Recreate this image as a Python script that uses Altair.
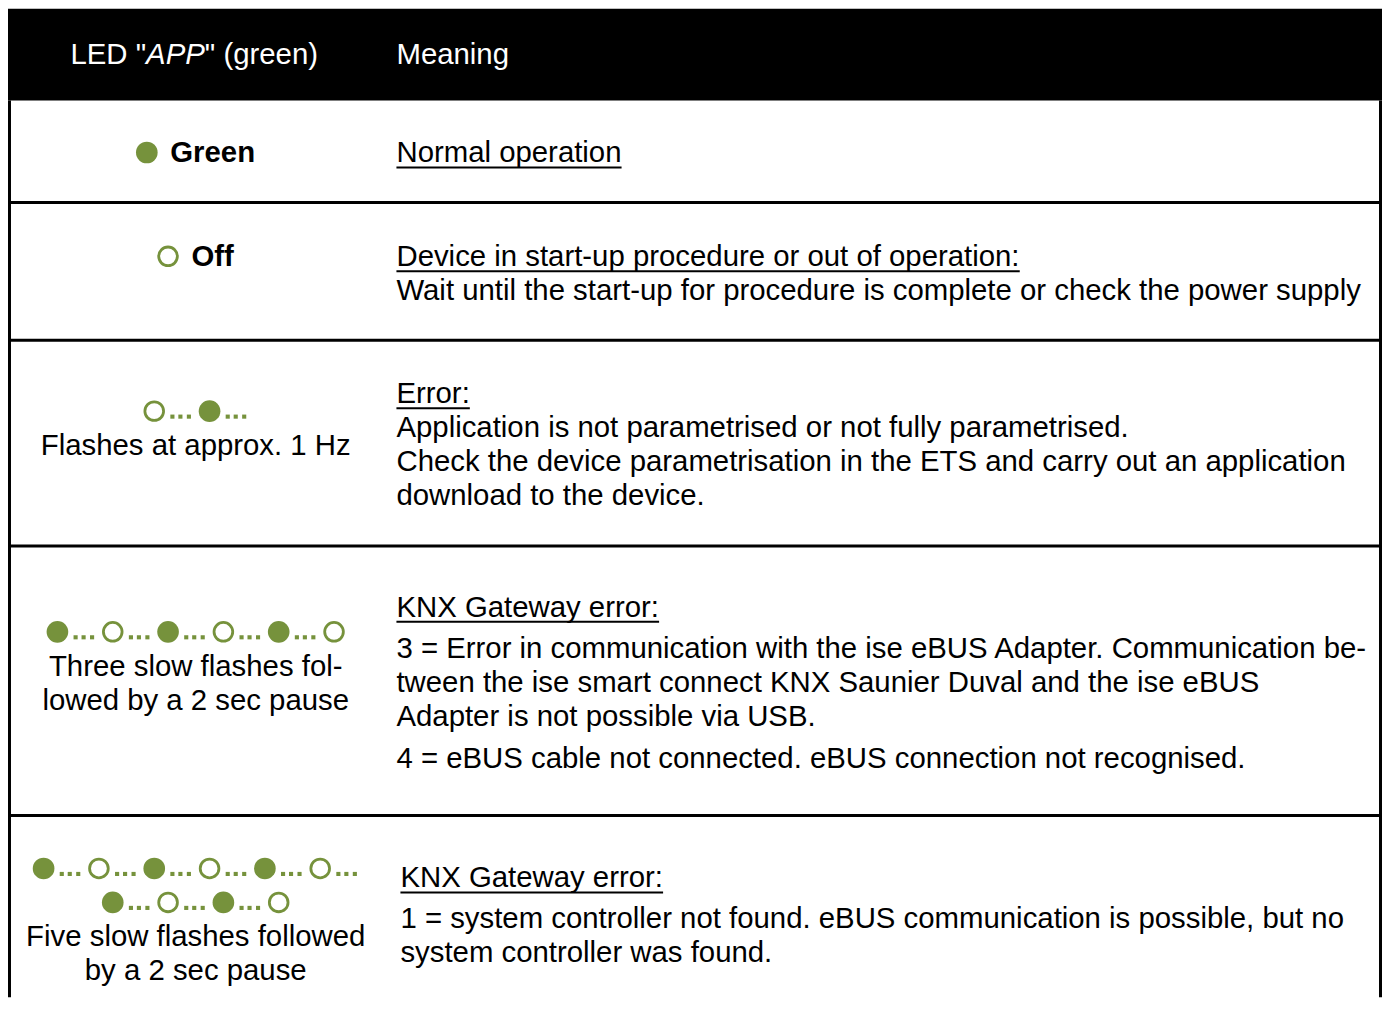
import altair as alt
import pandas as pd

# ---------------- data (table content) ----------------
HEADER_LED = ['LED "', "APP", '" (green)']          # middle part is italic
HEADER_MEANING = "Meaning"

STATE_SYMBOL = ["●", "○", None, None, None]
STATE_WORD = ["Green", "Off", None, None, None]

FLASH_PATTERNS = [
    [],
    [],
    ["○…●…"],
    ["●…○…●…○…●…○"],
    ["●…○…●…○…●…○…", "●…○…●…○"],
]
FLASH_TEXT = [
    [],
    [],
    ["Flashes at approx. 1 Hz"],
    ["Three slow flashes fol-", "lowed by a 2 sec pause"],
    ["Five slow flashes followed", "by a 2 sec pause"],
]

MEANING_HEADING = [
    "Normal operation",
    "Device in start-up procedure or out of operation:",
    "Error:",
    "KNX Gateway error:",
    "KNX Gateway error:",
]
MEANING_BODY = [
    [],
    [["Wait until the start-up for procedure is complete or check the power supply"]],
    [[
        "Application is not parametrised or not fully parametrised.",
        "Check the device parametrisation in the ETS and carry out an application",
        "download to the device.",
    ]],
    [
        [
            "3 = Error in communication with the ise eBUS Adapter. Communication be-",
            "tween the ise smart connect KNX Saunier Duval and the ise eBUS",
            "Adapter is not possible via USB.",
        ],
        ["4 = eBUS cable not connected. eBUS connection not recognised."],
    ],
    [[
        "1 = system controller not found. eBUS communication is possible, but no",
        "system controller was found.",
    ]],
]

# ---------------- layout / style ----------------
W, H = 1376, 990
LEFT, TOP = 8, 8                      # page offset of the plot area
FONT = "Liberation Sans, Arial, Helvetica, sans-serif"
FS = 29.4
LINE = 34
GREEN = "#76923C"
HEADER_BOTTOM = 100
HEADER_CY = 54
HEADER_C1_CX = 194.5
ROW_LINES = [202, 340, 546, 816]
BORDER_X = [9.5, 1382.5]
COL1_CX = 196
COL2_X = [397, 397, 397, 397, 401]
COL1_TOP = [153, 257, 411, 632, 869]
COL2_TOP = [153, 257, 394, 608, 879]
COL1_TEXT_DY = 1
HEAD_GAP = [34, 34, 34, 41, 41]
PARA_GAP = 42
STEP = 55.4
DOT_OFF = [-9.5, -1.5, 7]
DOT_DY = 5.5
SYM_GAP = 13
SYM_D = 21

# Arial / Liberation Sans advance widths (1/1000 em)
AW = {' ': 278, '!': 278, '"': 355, "'": 191, '(': 333, ')': 333, ',': 278, '-': 333,
      '.': 278, ':': 278, '=': 584, '?': 556,
      'A': 667, 'B': 667, 'C': 722, 'D': 722, 'E': 667, 'F': 611, 'G': 778, 'H': 722,
      'I': 278, 'J': 500, 'K': 667, 'L': 556, 'M': 833, 'N': 722, 'O': 778, 'P': 667,
      'Q': 778, 'R': 722, 'S': 667, 'T': 611, 'U': 722, 'V': 667, 'W': 944, 'X': 667,
      'Y': 667, 'Z': 611,
      'a': 556, 'b': 556, 'c': 500, 'd': 556, 'e': 556, 'f': 278, 'g': 556, 'h': 556,
      'i': 222, 'j': 222, 'k': 500, 'l': 222, 'm': 833, 'n': 556, 'o': 556, 'p': 556,
      'q': 556, 'r': 333, 's': 500, 't': 278, 'u': 556, 'v': 500, 'w': 722, 'x': 500,
      'y': 500, 'z': 500}
for d in "0123456789":
    AW[d] = 556
AWB = dict(AW)
AWB.update({'G': 778, 'r': 389, 'e': 556, 'n': 611, 'O': 778, 'f': 333})


def tw(s, table=AW, fs=FS):
    return sum(table.get(c, 556) for c in s) * fs / 1000.0


# ---------------- build mark tables ----------------
text_left, text_center, text_bold, head_text, head_italic = [], [], [], [], []
underlines, filled, hollow, dots = [], [], [], []

# header
w1, w2, w3 = (tw(HEADER_LED[0]), tw(HEADER_LED[1]), tw(HEADER_LED[2]))
hx = HEADER_C1_CX - (w1 + w2 + w3) / 2
head_text.append(dict(x=hx, y=HEADER_CY, t=HEADER_LED[0]))
head_italic.append(dict(x=hx + w1, y=HEADER_CY, t=HEADER_LED[1]))
head_text.append(dict(x=hx + w1 + w2, y=HEADER_CY, t=HEADER_LED[2]))
head_text.append(dict(x=COL2_X[0], y=HEADER_CY, t=HEADER_MEANING))

for r in range(5):
    # column 1
    cy = COL1_TOP[r]
    if STATE_SYMBOL[r]:
        word = STATE_WORD[r]
        total = SYM_D + SYM_GAP + tw(word, AWB)
        left = COL1_CX - total / 2
        rec = dict(x=left + SYM_D / 2, y=cy - 1)
        (filled if STATE_SYMBOL[r] == "●" else hollow).append(rec)
        text_bold.append(dict(x=left + SYM_D + SYM_GAP, y=cy, t=word))
    for pat in FLASH_PATTERNS[r]:
        n = sum(1 for c in pat if c in "●○")
        trailing = pat.endswith("…")
        span = (n - 1 + (0.5 if trailing else 0)) * STEP
        x_first = COL1_CX - span / 2
        k = -1
        for ch in pat:
            if ch in "●○":
                k += 1
                rec = dict(x=x_first + k * STEP, y=cy)
                (filled if ch == "●" else hollow).append(rec)
            elif ch == "…":
                mid = x_first + (k + 0.5) * STEP
                for off in DOT_OFF:
                    dots.append(dict(x=mid + off, y=cy + DOT_DY))
        cy += LINE
    for line in FLASH_TEXT[r]:
        text_center.append(dict(x=COL1_CX, y=cy + COL1_TEXT_DY, t=line))
        cy += LINE

    # column 2
    x2 = COL2_X[r]
    y = COL2_TOP[r]
    head = MEANING_HEADING[r]
    text_left.append(dict(x=x2, y=y, t=head))
    underlines.append(dict(x=x2, x2=x2 + tw(head), y=y + 14, y2=y + 14))
    y += HEAD_GAP[r]
    for pi, para in enumerate(MEANING_BODY[r]):
        if pi > 0:
            y += PARA_GAP - LINE
        for line in para:
            text_left.append(dict(x=x2, y=y, t=line))
            y += LINE

bottom = TOP + H
hlines = [dict(x=LEFT, x2=LEFT + W, y=v, y2=v) for v in ROW_LINES]
vlines = [dict(x=bx, x2=bx, y=HEADER_BOTTOM, y2=bottom) for bx in BORDER_X]
header_rect = [dict(x=LEFT, x2=LEFT + W, y=TOP, y2=HEADER_BOTTOM)]

XS = alt.Scale(domain=[LEFT, LEFT + W], nice=False, zero=False)
YS = alt.Scale(domain=[bottom, TOP], nice=False, zero=False)


def X(f="x"):
    return alt.X(f"{f}:Q", scale=XS, axis=None)


def Y(f="y"):
    return alt.Y(f"{f}:Q", scale=YS, axis=None)


def base(rows):
    return alt.Chart(pd.DataFrame(rows))


rect_layer = base(header_rect).mark_rect(color="black").encode(
    x=X(), x2="x2:Q", y=Y(), y2="y2:Q")
hrule = base(hlines).mark_rule(color="black", strokeWidth=3).encode(
    x=X(), x2="x2:Q", y=Y(), y2="y2:Q")
vrule = base(vlines).mark_rule(color="black", strokeWidth=3).encode(
    x=X(), x2="x2:Q", y=Y(), y2="y2:Q")
ul = base(underlines).mark_rule(color="black", strokeWidth=2).encode(
    x=X(), x2="x2:Q", y=Y(), y2="y2:Q")


def txt(rows, align="left", color="black", weight="normal", style="normal"):
    return base(rows).mark_text(
        align=align, baseline="middle", font=FONT, fontSize=FS, color=color,
        fontWeight=weight, fontStyle=style,
    ).encode(x=X(), y=Y(), text="t:N")


layers = [
    rect_layer, hrule, vrule, ul,
    txt(head_text, color="white"),
    txt(head_italic, color="white", style="italic"),
    txt(text_left),
    txt(text_center, align="center"),
    txt(text_bold, weight="bold"),
    base(filled).mark_point(shape="circle", filled=True, size=470, color=GREEN, opacity=1)
    .encode(x=X(), y=Y()),
    base(hollow).mark_point(shape="circle", filled=False, size=350, color=GREEN,
                            strokeWidth=2.8, opacity=1).encode(x=X(), y=Y()),
    base(dots).mark_square(size=17, color=GREEN, opacity=1).encode(x=X(), y=Y()),
]

chart = alt.layer(*layers).properties(
    width=W, height=H, padding=0, autosize="none", background="white"
).configure_view(stroke=None)

chart.save("out.html", embed_options={"renderer": "svg", "actions": False})
